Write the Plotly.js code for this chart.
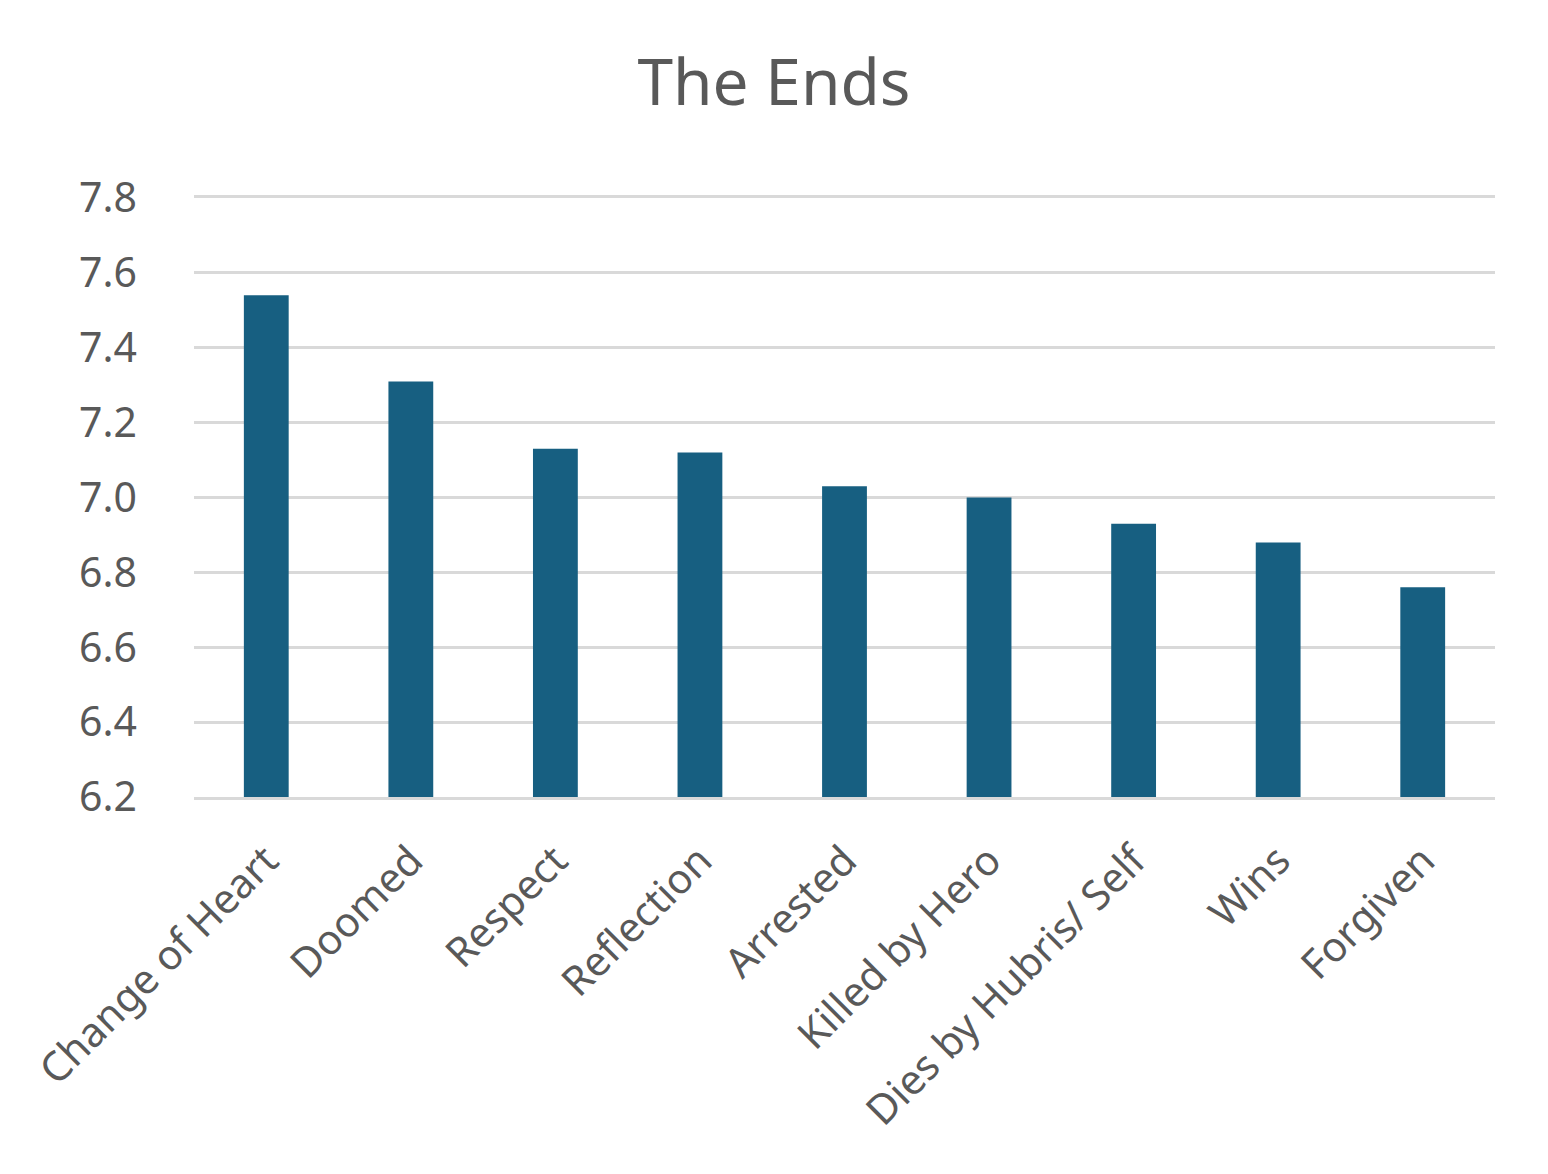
<!DOCTYPE html>
<html>
<head>
<meta charset="utf-8">
<script src="https://cdn.plot.ly/plotly-3.0.1.min.js"></script>
<style>html,body{margin:0;padding:0;background:#fff;}#chart{width:1548px;height:1174px;}</style>
</head>
<body>
<div id="chart"></div>
<script>
const categories = ["Change of Heart", "Doomed", "Respect", "Reflection", "Arrested", "Killed by Hero", "Dies by Hubris/ Self", "Wins", "Forgiven"];
const values = [7.54, 7.31, 7.13, 7.12, 7.03, 7.00, 6.93, 6.88, 6.76];
const yTicks = [6.2, 6.4, 6.6, 6.8, 7.0, 7.2, 7.4, 7.6, 7.8];
const yTickLabels = ["6.2", "6.4", "6.6", "6.8", "7.0", "7.2", "7.4", "7.6", "7.8"];
const axisMin = 6.2;
const axisMax = 7.8;

const fontFam = "Noto Sans, Liberation Sans, sans-serif";
const textColor = "#595959";
const gridColor = "#D9D9D9";

const trace = {
  type: "bar",
  x: categories,
  y: values.map(v => v - axisMin),
  base: axisMin,
  marker: {color: "#175F81"},
  hoverinfo: "skip"
};

const layout = {
  width: 1548,
  height: 1174,
  paper_bgcolor: "#ffffff",
  plot_bgcolor: "#ffffff",
  margin: {l: 194, r: 53, t: 198, b: 377},
  bargap: 0.69,
  showlegend: false,
  title: {
    text: "The Ends",
    font: {family: fontFam, size: 64, color: textColor},
    x: 0.5, xanchor: "center",
    y: 1 - 83 / 1174, yref: "container", yanchor: "middle"
  },
  xaxis: {
    type: "category",
    tickangle: -45,
    tickfont: {family: fontFam, size: 41, color: textColor},
    showgrid: false,
    showline: true,
    mirror: true,
    linecolor: gridColor,
    linewidth: 3,
    ticks: "",
    ticklabelstandoff: 20,
    fixedrange: true
  },
  yaxis: {
    range: [axisMin, axisMax],
    tickvals: yTicks,
    ticktext: yTickLabels,
    tickfont: {family: fontFam, size: 41, color: textColor},
    showgrid: true,
    gridcolor: gridColor,
    gridwidth: 3,
    zeroline: false,
    showline: false,
    ticks: "",
    ticklabelstandoff: 56,
    fixedrange: true
  }
};
Plotly.newPlot("chart", [trace], layout, {displayModeBar: false, staticPlot: true});
</script>
</body>
</html>
